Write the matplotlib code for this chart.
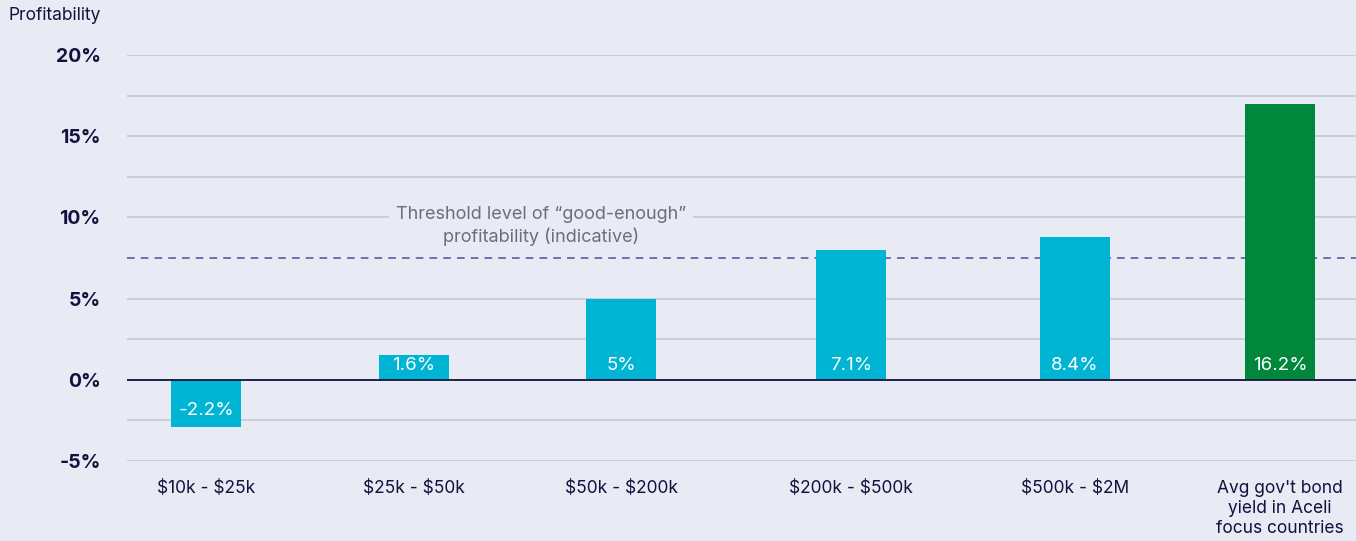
import matplotlib
matplotlib.use("Agg")
import matplotlib.pyplot as plt
import numpy as np

categories = ["$10k - $25k", "$25k - $50k", "$50k - $200k", "$200k - $500k",
              "$500k - $2M", "Avg gov't bond\nyield in Aceli\nfocus countries"]
bar_heights = [-2.9, 1.55, 5.0, 8.0, 8.8, 17.0]
bar_labels = ["-2.2%", "1.6%", "5%", "7.1%", "8.4%", "16.2%"]
bar_colors = ["#00B4D3", "#00B4D3", "#00B4D3", "#00B4D3", "#00B4D3", "#00873C"]
threshold = 7.5
threshold_text = "Threshold level of \u201cgood-enough\u201d\nprofitability (indicative)"
yticks = [-5, 0, 5, 10, 15, 20]
ytick_labels = ["-5%", "0%", "5%", "10%", "15%", "20%"]
grid_levels = [-5, -2.5, 2.5, 5, 10, 12.5, 15, 17.5, 20]

# layout (slot positions of the categories)
x_pos = [0, 0.968, 1.932, 3.003, 4.046, 5.0]

BG = "#E8EAF4"
NAVY = "#12123F"
plt.rcParams['font.family'] = ['Inter', 'DejaVu Sans']
plt.rcParams['text.parse_math'] = False

fig = plt.figure(figsize=(13.56, 5.41), dpi=100, facecolor=BG)
ax = fig.add_axes([127/1356, 1-461/541, 1-127/1356, (461-55)/541])
ax.set_facecolor(BG)
ax.set_xlim(-0.368, 5.354)
ax.set_ylim(-5, 20)

for g in grid_levels:
    ax.axhline(g, color="#C9CAD8", lw=1.3, zorder=1)

ax.bar(x_pos, bar_heights, width=0.326, color=bar_colors, zorder=3)
ax.axhline(0, color=NAVY, lw=1.3, zorder=4)
ax.axhline(threshold, color="#4A4F9E", lw=1.1, ls=(0, (5, 4)), zorder=2)

for xi, h, lab in zip(x_pos, bar_heights, bar_labels):
    off = 10 if h >= 0 else -22
    ax.annotate(lab, (xi, 0), xytext=(0, off), textcoords="offset points",
                ha="center", va="center", color="white", fontsize=13.5,
                zorder=5)

ax.text(1.56, 9.45, threshold_text, ha="center", va="center", color="#6D6E78",
        fontsize=13, linespacing=1.3, zorder=3,
        bbox=dict(facecolor=BG, edgecolor="none", pad=5))

ax.set_yticks(yticks)
ax.set_yticklabels(ytick_labels, fontsize=14, fontweight="bold", color=NAVY)
ax.set_xticks(x_pos)
ax.set_xticklabels(categories, fontsize=12.5, color=NAVY, linespacing=1.22, va="top")
ax.tick_params(axis="y", length=0, pad=19)
ax.tick_params(axis="x", length=0, pad=14)
for s in ax.spines.values():
    s.set_visible(False)

fig.text(8/1356, 1-15/541, "Profitability", ha="left", va="center", fontsize=12.5, color=NAVY)

fig.savefig("out.png", dpi=100, facecolor=BG)
